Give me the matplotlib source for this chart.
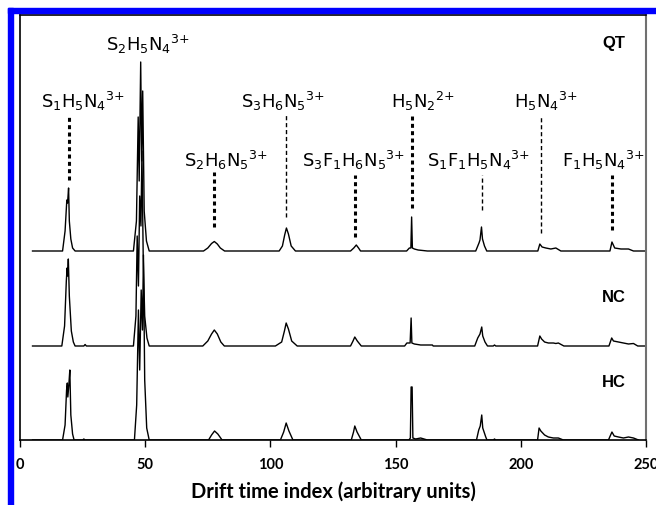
import matplotlib.pyplot as plt
from matplotlib.patches import Rectangle

plt.rcParams['mathtext.fontset'] = 'custom'
plt.rcParams['mathtext.rm'] = 'Liberation Sans'
plt.rcParams['mathtext.it'] = 'Liberation Sans'

# drift spectra, peak heights in plot units above each trace baseline
qt_x = [5, 17, 18, 18.7, 19.0, 19.4, 19.7, 20.3, 21, 22,
        45.3, 46.5, 47.2, 47.6, 48.2, 48.6, 49.0, 49.6, 50.5, 51.6,
        73.3, 75, 76.5, 77.6, 78.8, 80, 81.7,
        103.5, 104.8, 105.7, 106.4, 107.2, 108.3, 110,
        132, 133.3, 134.3, 135.2, 136,
        154.4, 155.5, 156.1, 156.4, 156.7, 157.5, 159, 162.7,
        182, 183.3, 183.7, 184.3, 184.7, 185.5, 186.4,
        206.8, 207.6, 208.5, 210, 212, 214, 216,
        235.6, 236.4, 237.5, 240, 243, 245, 250]
qt_y = [0, 0, 20, 51, 48, 63, 30, 12, 3, 0,
        0, 30, 134, 70, 189, 90, 160, 40, 10, 0,
        0, 3, 7.5, 9.5, 7, 3, 0,
        0, 5, 16, 23, 17, 5, 0,
        0, 3, 6, 3, 0,
        0, 3, 3, 34, 3, 2, 1, 0,
        0, 8, 11, 24, 12, 5, 0,
        0, 7, 4, 3, 2, 3, 0,
        0, 9, 3, 2, 2, 0, 0]

nc_x = [5, 16.7, 17.8, 18.5, 18.8, 19.0, 19.3, 19.7, 20.5, 21.3, 22,
        25.5, 26, 26.5, 45.3, 46.3, 46.8, 47.3, 47.8, 48.3, 48.7, 49.2, 49.8, 50.7, 51.6,
        73, 75, 76.5, 77.6, 78.8, 80.2, 81.6,
        102, 104.5, 105.6, 106.3, 107.2, 108.5, 110.7,
        132, 133, 133.7, 134.7, 136.3,
        153.6, 154.5, 155.8, 156.2, 156.5, 157.5, 160, 164.7, 165,
        181.6, 182.8, 183.7, 184.4, 184.8, 185.7, 186.7, 189, 189.5, 190,
        206.7, 207.6, 208.3, 209.5, 211, 213, 214, 215, 217.2,
        235.2, 236.3, 237, 239, 241, 243, 245, 246.7, 250]
nc_y = [0, 0, 20, 65, 78, 70, 87, 50, 15, 4, 0,
        0, 1.5, 0, 0, 30, 110, 60, 150, 120, 195, 90, 30, 8, 0,
        0, 5, 12, 16, 12, 4, 0,
        0, 4, 15, 23, 17, 5, 0,
        0, 5, 9, 5, 0,
        0, 3, 3, 28, 3, 2, 1, 1, 0,
        0, 8, 12, 19, 10, 4, 0, 0, 1, 0,
        0, 10, 7, 4, 3, 3, 2.5, 3, 0,
        0, 8, 5, 4, 3, 2, 2.5, 0, 0]

hc_x = [5, 17, 18, 18.6, 18.9, 19.1, 19.5, 19.9, 20.3, 21, 21.6,
        25, 25.5, 26, 45.7, 46.6, 47.3, 47.8, 48.4, 48.9, 49.3, 49.8, 50.6, 51.6,
        75.3, 76.5, 77.7, 79, 80.7,
        104, 105.3, 106.3, 107.4, 109,
        132.3, 133.2, 133.7, 134.6, 136.3,
        155.3, 155.9, 156.2, 156.6, 156.9, 158, 160, 162.7,
        182.3, 183.2, 183.8, 184.4, 184.8, 186, 186.5, 189, 189.5, 190,
        206.7, 207.3, 208, 209.5, 211, 213, 215, 217,
        235, 236.4, 237.3, 239, 241, 243, 245, 247]
hc_y = [0, 0, 15, 50, 57, 43, 55, 70, 25, 6, 0,
        0, 1, 0, 0, 35, 130, 70, 150, 110, 185, 60, 12, 0,
        0, 5, 9, 6, 0,
        0, 8, 17, 9, 0,
        0, 8, 14, 8, 0,
        0, 2, 53, 53, 2, 1, 2, 0,
        0, 10, 14, 25, 12, 3, 0, 0, 1, 0,
        0, 12, 9, 5, 3, 2, 2, 0,
        0, 8, 4, 3, 2, 3, 2, 0]

sample_names = ['QT', 'NC', 'HC']
baselines = [189, 94, 0]

# ion labels: text, x position, label height, marker line x, line bottom, line top, thick line
ion_labels = [r'$\mathregular{S_1H_5N_4{}^{3{+}}}$', r'$\mathregular{S_2H_5N_4{}^{3{+}}}$',
              r'$\mathregular{S_3H_6N_5{}^{3{+}}}$', r'$\mathregular{H_5N_2{}^{2{+}}}$',
              r'$\mathregular{H_5N_4{}^{3{+}}}$', r'$\mathregular{S_2H_6N_5{}^{3{+}}}$',
              r'$\mathregular{S_3F_1H_6N_5{}^{3{+}}}$', r'$\mathregular{S_1F_1H_5N_4{}^{3{+}}}$',
              r'$\mathregular{F_1H_5N_4{}^{3{+}}}$']
label_x = [25, 51, 105, 161, 210, 82.4, 133, 183, 233]
label_y = [339, 396, 339, 339, 339, 280, 280, 280, 280]
marker_x = [19.6, None, 106.4, 156.4, 208, 77.5, 133.6, 184.7, 236.4]
marker_lo = [260, None, 223, 232, 207, 213, 203, 230, 210]
marker_hi = [323, None, 325, 325, 325, 268, 265, 265, 265]
marker_thick = [True, None, False, True, False, True, True, False, True]

fig = plt.figure(figsize=(6.56, 5.05), dpi=100)
ax = fig.add_axes([20 / 656, 65 / 505, 626 / 656, 425 / 505])

for xs, ys, base in zip([qt_x, nc_x, hc_x], [qt_y, nc_y, hc_y], baselines):
    ax.plot(xs, [v + base for v in ys], color='black', lw=1.0)

for name, base, off in zip(sample_names, baselines, [208, 49, 57.5]):
    ax.text(237, base + off, name, ha='center', va='center',
            fontsize=12, fontweight='bold', family='Liberation Sans')

for txt, lx, ly, mx, lo, hi, thick in zip(ion_labels, label_x, label_y, marker_x,
                                           marker_lo, marker_hi, marker_thick):
    ax.text(lx, ly, txt, ha='center', va='center', fontsize=13)
    if mx is not None:
        if thick:
            ax.plot([mx, mx], [lo, hi], color='black', lw=2.2, ls=(0, (1.3, 1.1)))
        else:
            ax.plot([mx, mx], [lo, hi], color='black', lw=1.0, ls=(0, (3, 2)))

ax.set_xlim(0, 250)
ax.set_ylim(0, 425)
ax.set_xticks([0, 50, 100, 150, 200, 250])
ax.set_yticks([])
ax.tick_params(axis='x', direction='out', length=5, width=1, pad=8)
for lab in ax.get_xticklabels():
    lab.set_fontfamily('Lato')
    lab.set_fontweight('bold')
    lab.set_fontsize(10.5)
ax.set_xlabel('Drift time index (arbitrary units)', fontsize=14.5,
              fontweight='bold', family='Lato', labelpad=7)
for s in ['top', 'left', 'bottom']:
    ax.spines[s].set_color('black')
    ax.spines[s].set_linewidth(1.2)
ax.spines['right'].set_color('#707070')
ax.spines['right'].set_linewidth(1.5)

# blue frame at top and left
fig.patches.append(Rectangle((8 / 656, 492 / 505), 648 / 656, 5 / 505,
                             transform=fig.transFigure, color='#0000ff', zorder=0))
fig.patches.append(Rectangle((8 / 656, 0), 5 / 656, 497 / 505,
                             transform=fig.transFigure, color='#0000ff', zorder=0))

fig.savefig('out.png', dpi=100)
